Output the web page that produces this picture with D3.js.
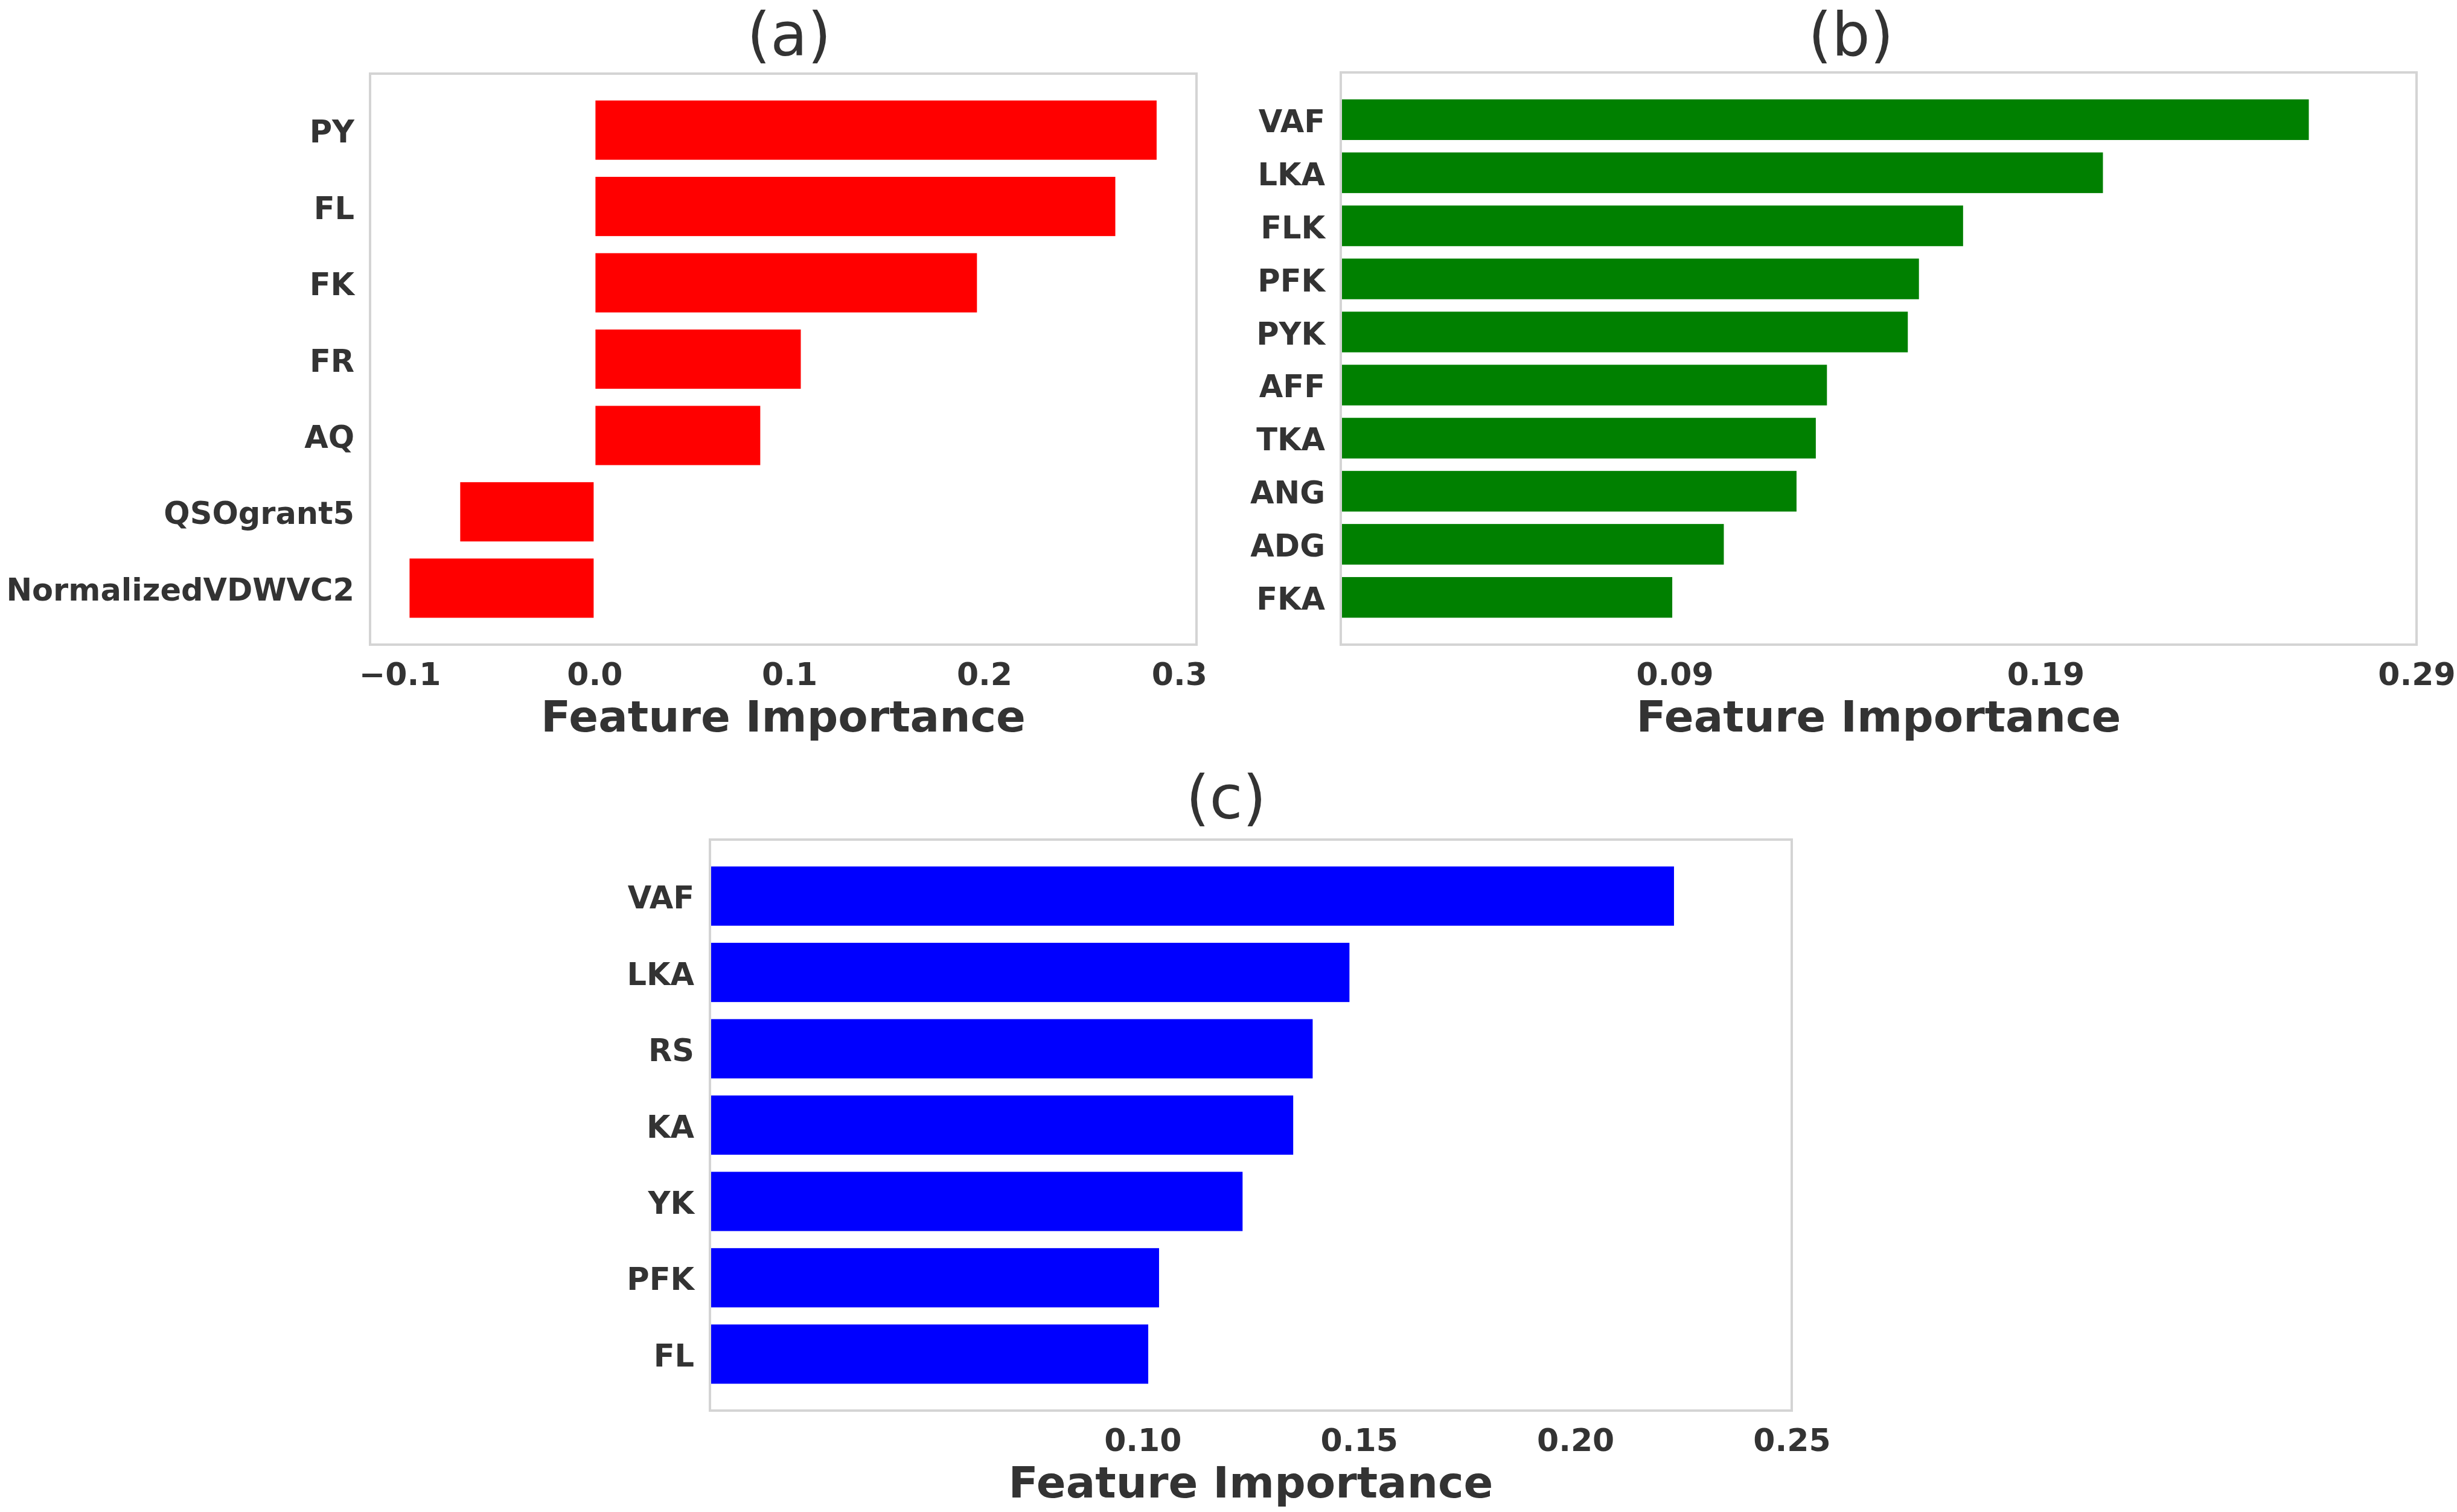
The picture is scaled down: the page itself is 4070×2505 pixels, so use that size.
<!DOCTYPE html>
<html>
<head>
<meta charset="utf-8">
<script src="https://cdn.jsdelivr.net/npm/d3@7"></script>
<style>
  html, body { margin: 0; padding: 0; background: #ffffff; }
  svg { display: block; }
  text { font-family: "DejaVu Sans", sans-serif; }
</style>
</head>
<body>
<svg id="chart" width="4070" height="2505"></svg>
<script>
// ---------------- data ----------------
const catsA = ["PY", "FL", "FK", "FR", "AQ", "QSOgrant5", "NormalizedVDWVC2"];
const valsA = [0.2889, 0.2677, 0.1967, 0.1063, 0.0855, -0.0694, -0.0954];
const ticksA = [-0.1, 0.0, 0.1, 0.2, 0.3];
const tickLabelsA = ["\u22120.1", "0.0", "0.1", "0.2", "0.3"];
const limA = [-0.1152, 0.3089];

const catsB = ["VAF", "LKA", "FLK", "PFK", "PYK", "AFF", "TKA", "ANG", "ADG", "FKA"];
const valsB = [0.2612, 0.2057, 0.1680, 0.1561, 0.1531, 0.1313, 0.1283, 0.1231, 0.1035, 0.0896];
const ticksB = [0.09, 0.19, 0.29];
const tickLabelsB = ["0.09", "0.19", "0.29"];
const limB = [0, 0.29];

const catsC = ["VAF", "LKA", "RS", "KA", "YK", "PFK", "FL"];
const valsC = [0.2230, 0.1480, 0.1395, 0.1350, 0.1233, 0.1040, 0.1015];
const ticksC = [0.10, 0.15, 0.20, 0.25];
const tickLabelsC = ["0.10", "0.15", "0.20", "0.25"];
const limC = [0, 0.25];

const titles = ["(a)", "(b)", "(c)"];
const xLabel = "Feature Importance";
const colors = ["#ff0000", "#008000", "#0000ff"];

// ---------------- layout ----------------
const panels = [
  { cats: catsA, vals: valsA, ticks: ticksA, tl: tickLabelsA, lim: limA, color: colors[0], title: titles[0],
    left: 613, right: 1982, top: 122, bottom: 1068, titleX: 1307, titleY: 92 },
  { cats: catsB, vals: valsB, ticks: ticksB, tl: tickLabelsB, lim: limB, color: colors[1], title: titles[1],
    left: 2221, right: 4003, top: 120, bottom: 1068, titleX: 3066, titleY: 92 },
  { cats: catsC, vals: valsC, ticks: ticksC, tl: tickLabelsC, lim: limC, color: colors[2], title: titles[2],
    left: 1176, right: 2968, top: 1391, bottom: 2337, titleX: 2031, titleY: 1356 }
];

const svg = d3.select("#chart");
svg.append("rect").attr("width", 4070).attr("height", 2505).attr("fill", "#ffffff");

const textColor = "#333333";
const barH = 0.8;

panels.forEach(p => {
  const n = p.cats.length;
  const m = 0.05 * (n - 1 + barH);
  const x = d3.scaleLinear().domain(p.lim).range([p.left, p.right]);
  const y = d3.scaleLinear().domain([-barH / 2 - m, n - 1 + barH / 2 + m]).range([p.top, p.bottom]);

  const g = svg.append("g");

  // bars
  g.selectAll("rect.bar")
    .data(p.vals)
    .join("rect")
    .attr("class", "bar")
    .attr("x", d => Math.min(x(0), x(d)))
    .attr("width", d => Math.abs(x(d) - x(0)))
    .attr("y", (d, i) => y(i - barH / 2))
    .attr("height", y(barH) - y(0))
    .attr("fill", p.color)
    .attr("stroke", "#ffffff")
    .attr("stroke-width", 3);

  // frame
  g.append("rect")
    .attr("x", p.left).attr("y", p.top)
    .attr("width", p.right - p.left).attr("height", p.bottom - p.top)
    .attr("fill", "none")
    .attr("stroke", "#d4d4d4")
    .attr("stroke-width", 4);

  // x axis (tick labels only)
  const xAxis = d3.axisBottom(x)
    .tickValues(p.ticks)
    .tickFormat((d, i) => p.tl[i])
    .tickSize(0)
    .tickPadding(0);
  const ax = g.append("g").attr("transform", `translate(0,${p.bottom})`).call(xAxis);
  ax.select(".domain").remove();
  ax.selectAll("text")
    .attr("dy", null)
    .attr("y", 67)
    .attr("fill", textColor)
    .style("font-family", "'DejaVu Sans', sans-serif")
    .style("font-size", "52px")
    .style("font-weight", "bold");

  // y axis (category labels)
  const yAxis = d3.axisLeft(y)
    .tickValues(d3.range(n))
    .tickFormat(i => p.cats[i])
    .tickSize(0)
    .tickPadding(0);
  const ay = g.append("g").attr("transform", `translate(${p.left},0)`).call(yAxis);
  ay.select(".domain").remove();
  ay.selectAll("text")
    .attr("dy", null)
    .attr("x", -26)
    .attr("y", 20)
    .attr("text-anchor", "end")
    .attr("fill", textColor)
    .style("font-family", "'DejaVu Sans', sans-serif")
    .style("font-size", "51px")
    .style("font-weight", "bold");

  // x label
  g.append("text")
    .attr("x", (p.left + p.right) / 2)
    .attr("y", p.bottom + 144)
    .attr("text-anchor", "middle")
    .attr("fill", textColor)
    .style("font-size", "72px")
    .style("font-weight", "bold")
    .text(xLabel);

  // title
  g.append("text")
    .attr("x", p.titleX)
    .attr("y", p.titleY)
    .attr("text-anchor", "middle")
    .attr("fill", textColor)
    .style("font-size", "100px")
    .text(p.title);
});
</script>
</body>
</html>
